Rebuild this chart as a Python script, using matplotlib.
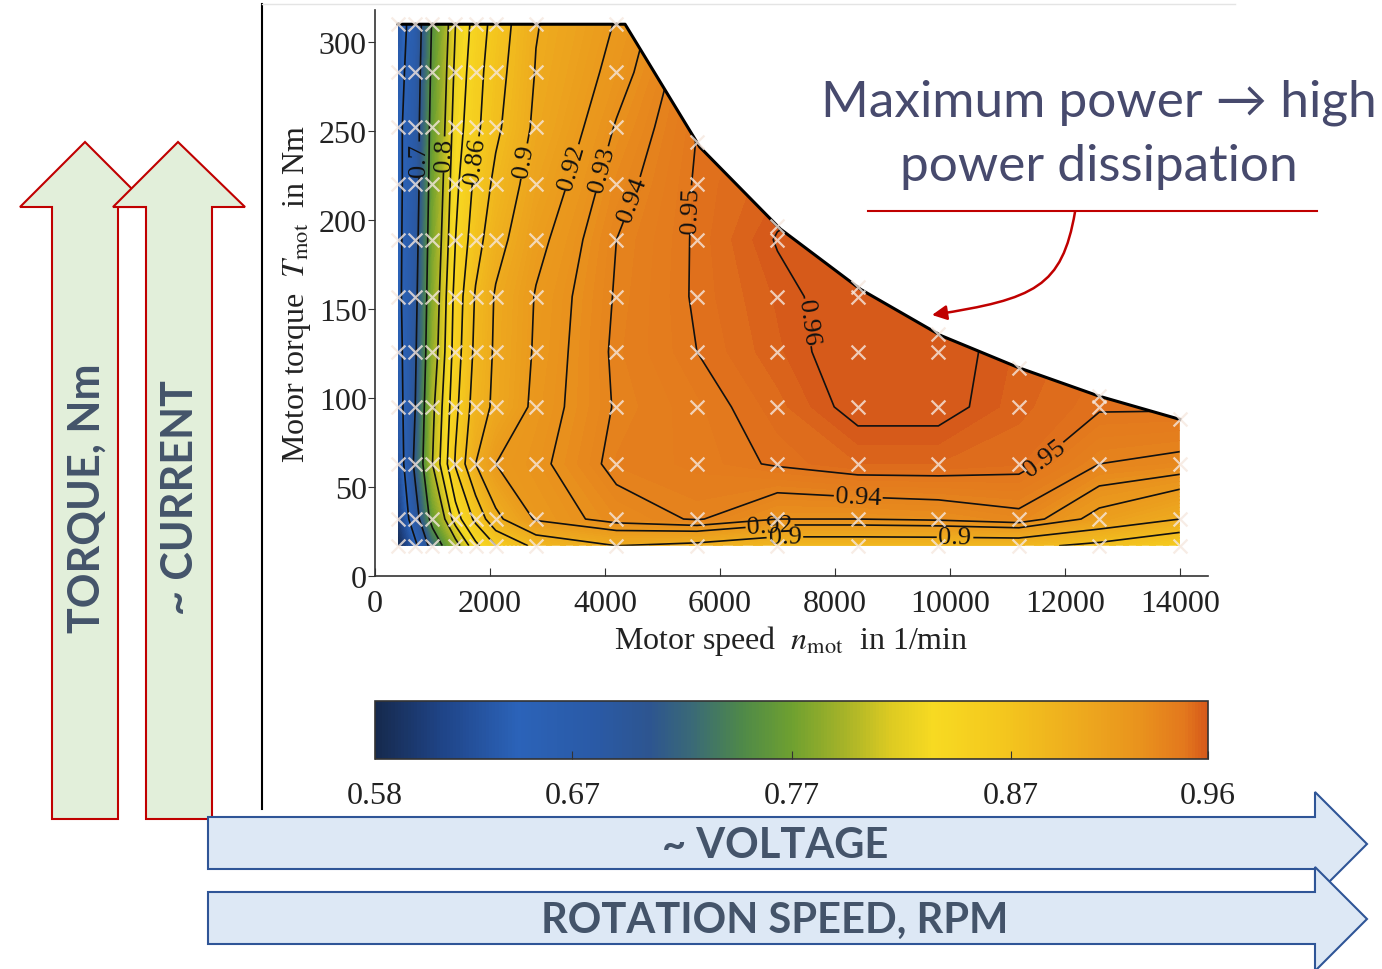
import numpy as np
import matplotlib
matplotlib.use('Agg')
import matplotlib.pyplot as plt
from matplotlib.colors import LinearSegmentedColormap, Normalize
from matplotlib.patches import Polygon, FancyArrowPatch
from matplotlib.path import Path
from matplotlib.cm import ScalarMappable

plt.rcParams['font.family'] = 'serif'
plt.rcParams['font.serif'] = ['Liberation Serif', 'DejaVu Serif']
plt.rcParams['mathtext.fontset'] = 'stix'

# measured operating grid (motor speed in 1/min, torque in Nm)
speed = [400, 700, 1000, 1400, 1750, 2100, 2800, 4200, 5600, 7000, 8400, 9800, 11200, 12600, 14000]
torque = [17, 32, 63, 95, 126, 157, 189, 220, 252, 283, 310]

# efficiency, one row per torque value
eff = [
    [0.58, 0.64, 0.72, 0.79, 0.835, 0.86, 0.885, 0.90, 0.895, 0.885, 0.885, 0.885, 0.885, 0.875, 0.86],
    [0.60, 0.68, 0.765, 0.83, 0.865, 0.895, 0.922, 0.935, 0.941, 0.930, 0.930, 0.932, 0.937, 0.915, 0.90],
    [0.62, 0.71, 0.80, 0.862, 0.90, 0.92, 0.927, 0.943, 0.946, 0.951, 0.955, 0.955, 0.953, 0.94, 0.937],
    [0.63, 0.70, 0.795, 0.855, 0.89, 0.904, 0.924, 0.941, 0.947, 0.954, 0.9625, 0.9625, 0.956, 0.951, 0.951],
    [0.635, 0.695, 0.785, 0.85, 0.885, 0.903, 0.922, 0.942, 0.950, 0.957, 0.964, 0.963, 0.957, 0.953, 0.952],
    [0.64, 0.69, 0.78, 0.847, 0.882, 0.902, 0.921, 0.941, 0.951, 0.958, 0.964, 0.962, 0.958, 0.955, 0.953],
    [0.64, 0.685, 0.775, 0.84, 0.872, 0.893, 0.916, 0.940, 0.951, 0.9605, 0.965, 0.963, 0.958, 0.955, 0.953],
    [0.64, 0.68, 0.77, 0.835, 0.865, 0.885, 0.91, 0.936, 0.951, 0.957, 0.96, 0.96, 0.957, 0.955, 0.953],
    [0.64, 0.68, 0.765, 0.83, 0.855, 0.876, 0.904, 0.931, 0.950, 0.955, 0.957, 0.957, 0.955, 0.953, 0.952],
    [0.635, 0.675, 0.76, 0.825, 0.852, 0.872, 0.901, 0.925, 0.948, 0.953, 0.955, 0.955, 0.953, 0.952, 0.95],
    [0.63, 0.67, 0.755, 0.82, 0.848, 0.868, 0.899, 0.921, 0.945, 0.95, 0.952, 0.952, 0.951, 0.95, 0.95],
]

# maximum torque curve
bnd_speed = [400, 4350, 5650, 7050, 8450, 9850, 11200, 12600, 14000]
bnd_torque = [310, 310, 241, 195, 161, 135, 117, 101, 88]

line_levels = [0.65, 0.7, 0.75, 0.8, 0.82, 0.84, 0.86, 0.88, 0.9, 0.92, 0.93, 0.94, 0.95, 0.96]
cbar_ticks = [0.58, 0.67, 0.77, 0.87, 0.96]

cmap_vals = [0.58, 0.61, 0.645, 0.68, 0.705, 0.725, 0.748, 0.77, 0.795, 0.815, 0.835, 0.865, 0.90, 0.93, 0.95, 0.96]
cmap_cols = ['#162a4e', '#1f4487', '#2b63b9', '#2a5aa6', '#2d5590', '#3a6a76', '#4f8a48', '#6ea030',
             '#a8b428', '#dcca22', '#f7da22', '#f4c81e', '#eeac1e', '#e9921d', '#e3781d', '#d65a1a']

vmin, vmax = 0.58, 0.96
cmap = LinearSegmentedColormap.from_list(
    'eff', [((v - vmin) / (vmax - vmin), c) for v, c in zip(cmap_vals, cmap_cols)])
norm = Normalize(vmin, vmax)

S, T = np.meshgrid(speed, torque)
Z = np.array(eff)

fig = plt.figure(figsize=(13.82, 9.70), dpi=100)
ax = fig.add_axes([375/1382, 393/970, 833/1382, 566/970])

clip_pts = [(speed[0], torque[0])] + list(zip(bnd_speed, bnd_torque)) + [(speed[-1], torque[0])]
clip = Polygon(clip_pts, closed=True, transform=ax.transData, facecolor='none', edgecolor='none')
ax.add_patch(clip)

cf = ax.contourf(S, T, Z, levels=np.linspace(0.575, 0.97, 160), cmap=cmap, norm=norm, antialiased=False)
cf.set_clip_path(clip)
cl = ax.contour(S, T, Z, levels=line_levels, colors='#111111', linewidths=1.2)
cl.set_clip_path(clip)

ax.plot(bnd_speed, bnd_torque, color='k', lw=2.2, zorder=4)

# measurement points: grid points under the envelope plus the envelope points
tmax = np.interp(speed, bnd_speed, bnd_torque)
px, py = [], []
for j, n in enumerate(speed):
    for t in torque:
        if t <= tmax[j] + 0.5:
            px.append(n)
            py.append(t)
    if tmax[j] < torque[-1] - 0.5:
        px.append(n)
        py.append(tmax[j])
ax.scatter(px, py, marker='x', s=100, color='#f6e8df', linewidths=1.6, alpha=0.8, zorder=5, clip_on=False)

label_pos = [(800, 234), (1080, 237), (1650, 234), (2430, 234), (3270, 231), (3880, 229),
             (4430, 212), (5480, 206), (7650, 143), (11740, 63), (8400, 39), (6870, 29),
             (7130, 25), (10090, 22)]
ax.clabel(cl, manual=label_pos, fmt=lambda v: f'{v:g}', fontsize=19, inline=True, inline_spacing=3)

ax.set_xlim(0, 14490)
ax.set_ylim(0, 318)
ax.set_xticks(np.arange(0, 14001, 2000))
ax.set_yticks(np.arange(0, 301, 50))
for side in ['top', 'right']:
    ax.spines[side].set_visible(False)
for side in ['left', 'bottom']:
    ax.spines[side].set_color('#333333')
    ax.spines[side].set_linewidth(1.2)
ax.tick_params(axis='x', direction='in', length=6, labelsize=23, pad=9, colors='#333333', labelcolor='#222222')
ax.tick_params(axis='y', direction='out', length=5, labelsize=23, pad=1, colors='#333333', labelcolor='#222222')
ax.set_xlabel(r'Motor speed  $n_{\mathrm{mot}}$  in 1/min', fontsize=23, color='#222222', labelpad=4)
ax.set_ylabel(r'Motor torque  $T_{\mathrm{mot}}$  in Nm', fontsize=23, color='#222222', labelpad=4)
ax.patch.set_alpha(0)

cax = fig.add_axes([375/1382, 210/970, 833/1382, 58/970])
cb = fig.colorbar(ScalarMappable(norm=norm, cmap=cmap), cax=cax, orientation='horizontal')
cb.set_ticks(cbar_ticks)
cb.set_ticklabels([f'{v:.2f}' for v in cbar_ticks])
cb.outline.set_edgecolor('#333333')
cb.outline.set_linewidth(1.2)
cax.tick_params(direction='in', length=6, labelsize=23, pad=16, colors='#333333', labelcolor='#222222')

# slide overlay in pixel coordinates
ov = fig.add_axes([0, 0, 1, 1], zorder=10)
ov.set_xlim(0, 1382)
ov.set_ylim(970, 0)
ov.axis('off')
ov.patch.set_alpha(0)

ov.plot([262, 262], [5, 810], color='k', lw=1.5)
ov.plot([262, 1235], [5, 5], color='#e4e4e4', lw=1)

red, green_fill = '#c00000', '#e2efda'
ov.add_patch(Polygon([(52, 820), (52, 208), (20, 208), (85, 143), (150, 208), (118, 208), (118, 820)],
                     closed=True, facecolor=green_fill, edgecolor=red, lw=1.5))
ov.add_patch(Polygon([(146, 820), (146, 208), (113, 208), (178, 143), (245, 208), (212, 208), (212, 820)],
                     closed=True, facecolor=green_fill, edgecolor=red, lw=1.5))

blue, blue_fill = '#2f5597', '#dde8f5'
ov.add_patch(Polygon([(208, 818), (1315, 818), (1315, 793), (1367, 845), (1315, 897), (1315, 870), (208, 870)],
                     closed=True, facecolor=blue_fill, edgecolor=blue, lw=1.5))
ov.add_patch(Polygon([(208, 893), (1315, 893), (1315, 868), (1367, 920), (1315, 972), (1315, 945), (208, 945)],
                     closed=True, facecolor=blue_fill, edgecolor=blue, lw=1.5))

slate = '#44546a'
bold = dict(family=['Lato', 'DejaVu Sans'], weight='bold', color=slate, ha='center', va='center')
ov.text(87, 498, 'TORQUE, Nm', rotation=90, fontsize=31, **bold)
ov.text(180, 498, '~ CURRENT', rotation=90, fontsize=31, **bold)
ov.text(775, 846, '~ VOLTAGE', fontsize=30, **bold)
ov.text(775, 921, 'ROTATION SPEED, RPM', fontsize=30, **bold)

note = dict(family=['Lato', 'DejaVu Sans'], color='#474a6d', ha='center', va='center', fontsize=37)
ov.text(1099, 103, 'Maximum power \u2192 high', **note)
ov.text(1099, 167, 'power dissipation', **note)
ov.plot([868, 1317], [212, 212], color=red, lw=1.5)
curve = Path([(1075, 213), (1062, 288), (1035, 300), (932, 316)],
             [Path.MOVETO, Path.CURVE4, Path.CURVE4, Path.CURVE4])
ov.add_patch(FancyArrowPatch(path=curve, arrowstyle='-|>', mutation_scale=22, color=red, lw=1.8))

fig.savefig('out.png', dpi=100)
